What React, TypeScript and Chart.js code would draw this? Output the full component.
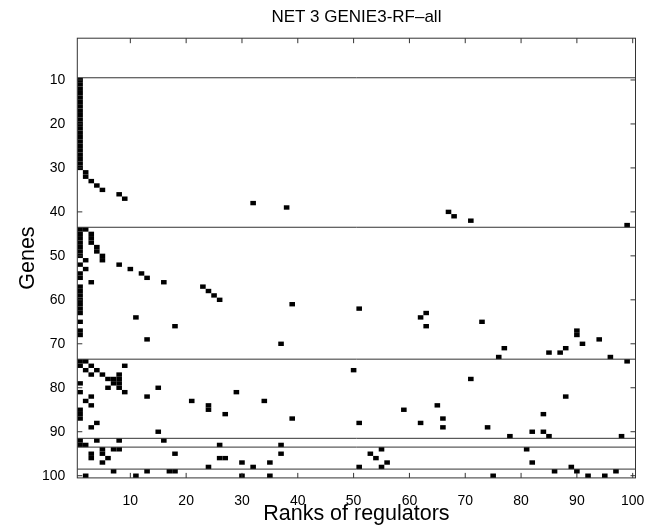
import { useEffect, useRef } from "react";
import { Chart, registerables } from "chart.js";

Chart.register(...registerables);

const FONT = '"Liberation Sans", Arial, Helvetica, sans-serif';

const TITLE = "NET 3 GENIE3-RF\u2013all";
const X_LABEL = "Ranks of regulators";
const Y_LABEL = "Genes";
const X_TICKS = [10, 20, 30, 40, 50, 60, 70, 80, 90, 100];
const Y_TICKS = [10, 20, 30, 40, 50, 60, 70, 80, 90, 100];
const RANK_MIN = 0.5;
const RANK_MAX = 100.5;
const GENE_MIN = 0.5;
const GENE_MAX = 100.5;

// horizontal module separators (between gene rows)
const MODULE_BOUNDARIES = [9.5, 43.5, 73.5, 91.5, 93.5, 98.5];

// genes whose regulator of rank 1 is marked
const RANK1_GENES = [
  10, 11, 12, 13, 14, 15, 16, 17, 18, 19, 20, 21, 22, 23, 24, 25, 26, 27, 28, 29, 30,
  44, 45, 46, 47, 48, 49, 50, 52, 54, 55, 57, 58, 59, 60, 61, 62, 63, 65, 67, 68,
  74, 75, 79, 81, 85, 86, 87, 92, 93,
];

// other marked cells: [rank, gene]
const MODULE_A: [number, number][] = [
  [2, 31], [2, 32], [3, 33], [4, 34], [5, 35], [8, 36], [9, 37], [32, 38], [38, 39],
  [67, 40], [68, 41], [71, 42], [99, 43],
];
const MODULE_B: [number, number][] = [
  [2, 44], [3, 45], [3, 46], [3, 47], [4, 48], [4, 49], [5, 50], [5, 51], [2, 51],
  [8, 52], [2, 53], [10, 53], [12, 54], [13, 55], [3, 56], [16, 56], [23, 57], [24, 58],
  [25, 59], [26, 60], [39, 61], [51, 62], [63, 63], [11, 64], [62, 64], [73, 65],
  [18, 66], [63, 66], [90, 67], [90, 68], [13, 69], [94, 69], [37, 70], [91, 70],
  [77, 71], [88, 71], [85, 72], [87, 72], [76, 73], [96, 73],
];
const MODULE_C: [number, number][] = [
  [2, 74], [99, 74], [3, 75], [9, 75], [2, 76], [4, 76], [50, 76], [3, 77], [5, 77],
  [8, 77], [6, 78], [7, 78], [8, 78], [71, 78], [7, 79], [8, 79], [6, 80], [8, 80],
  [15, 80], [9, 81], [29, 81], [3, 82], [13, 82], [88, 82], [2, 83], [21, 83], [34, 83],
  [3, 84], [24, 84], [65, 84], [24, 85], [59, 85], [27, 86], [84, 86], [39, 87],
  [66, 87], [4, 88], [51, 88], [62, 88], [3, 89], [66, 89], [74, 89], [15, 90],
  [82, 90], [84, 90], [78, 91], [85, 91], [98, 91],
];
const MODULE_D: [number, number][] = [
  [4, 92], [8, 92], [16, 92], [2, 93], [26, 93], [37, 93],
];
const MODULE_E: [number, number][] = [
  [5, 94], [7, 94], [8, 94], [55, 94], [81, 94], [3, 95], [5, 95], [18, 95], [37, 95],
  [53, 95], [3, 96], [6, 96], [26, 96], [27, 96], [54, 96], [5, 97], [30, 97], [35, 97],
  [56, 97], [82, 97], [24, 98], [32, 98], [51, 98], [55, 98], [89, 98],
];
const MODULE_F: [number, number][] = [
  [7, 99], [13, 99], [17, 99], [18, 99], [86, 99], [90, 99], [97, 99],
  [2, 100], [11, 100], [30, 100], [35, 100], [75, 100], [92, 100], [95, 100],
];

const matrixPlugin = {
  id: "matrixCells",
  beforeDatasetsDraw(chart: any) {
    const xs = chart.scales.x;
    const ys = chart.scales.y;
    const ds = chart.data.datasets.find((d: any) => d.label === "cells");
    if (!ds) return;
    const { ctx, chartArea } = chart;
    ctx.save();
    ctx.beginPath();
    ctx.rect(chartArea.left, chartArea.top, chartArea.right - chartArea.left, chartArea.bottom - chartArea.top);
    ctx.clip();
    ctx.filter = "blur(0.7px)";
    ctx.fillStyle = "#000";
    for (const p of ds.data) {
      const x0 = xs.getPixelForValue(p.x - 0.5);
      const x1 = xs.getPixelForValue(p.x + 0.5);
      const y0 = ys.getPixelForValue(p.y - 0.5);
      const y1 = ys.getPixelForValue(p.y + 0.5);
      ctx.fillRect(Math.min(x0, x1), Math.min(y0, y1), Math.abs(x1 - x0), Math.abs(y1 - y0));
    }
    ctx.restore();
  },
  afterDraw(chart: any) {
    const { ctx, chartArea } = chart;
    const xs = chart.scales.x;
    const ys = chart.scales.y;
    const L = 5;
    ctx.save();
    ctx.strokeStyle = "#333";
    ctx.lineWidth = 1;
    ctx.strokeRect(chartArea.left, chartArea.top, chartArea.right - chartArea.left, chartArea.bottom - chartArea.top);
    ctx.beginPath();
    for (const v of X_TICKS) {
      const px = xs.getPixelForValue(v);
      ctx.moveTo(px, chartArea.bottom);
      ctx.lineTo(px, chartArea.bottom - L);
      ctx.moveTo(px, chartArea.top);
      ctx.lineTo(px, chartArea.top + L);
    }
    for (const v of Y_TICKS) {
      const py = ys.getPixelForValue(v);
      ctx.moveTo(chartArea.left, py);
      ctx.lineTo(chartArea.left + L, py);
      ctx.moveTo(chartArea.right, py);
      ctx.lineTo(chartArea.right - L, py);
    }
    ctx.stroke();
    ctx.restore();
  },
};

export default function App() {
  const canvasRef = useRef<HTMLCanvasElement | null>(null);

  useEffect(() => {
    if (!canvasRef.current) return;
    const allPairs = [...MODULE_A, ...MODULE_B, ...MODULE_C, ...MODULE_D, ...MODULE_E, ...MODULE_F];
    const cells = [
      ...RANK1_GENES.map((g) => ({ x: 1, y: g })),
      ...allPairs.map(([r, g]) => ({ x: r, y: g })),
    ];
    const boundaryDatasets = MODULE_BOUNDARIES.map((b) => ({
      label: "boundary " + b,
      data: [
        { x: RANK_MIN, y: b },
        { x: RANK_MAX, y: b },
      ],
      showLine: true,
      borderColor: "#333",
      borderWidth: 1,
      pointRadius: 0,
    }));

    const chart = new Chart(canvasRef.current, {
      type: "scatter",
      data: {
        datasets: [
          { label: "cells", data: cells, pointRadius: 0, backgroundColor: "#000" },
          ...boundaryDatasets,
        ] as any,
      },
      options: {
        animation: false,
        responsive: false,
        events: [],
        layout: { padding: { left: 0, right: 18.5, top: 0, bottom: 0 } },
        plugins: {
          legend: { display: false },
          tooltip: { enabled: false },
          title: {
            display: true,
            fullSize: false,
            text: TITLE,
            color: "#000",
            font: { family: FONT, size: 17, weight: "normal" },
            padding: { top: 7, bottom: 10.8 },
          },
        },
        scales: {
          x: {
            type: "linear",
            position: "bottom",
            min: RANK_MIN,
            max: RANK_MAX,
            afterBuildTicks: (s: any) => {
              s.ticks = X_TICKS.map((v) => ({ value: v }));
            },
            afterFit: (s: any) => {
              s.height = 49.1;
            },
            grid: { display: false },
            border: { display: false },
            ticks: {
              color: "#000",
              font: { family: FONT, size: 14 },
              padding: 6.7,
              maxRotation: 0,
              autoSkip: false,
            },
            title: {
              display: true,
              text: X_LABEL,
              color: "#000",
              font: { family: FONT, size: 21.5 },
              padding: { top: 0, bottom: 0 },
            },
          },
          y: {
            type: "linear",
            reverse: true,
            min: GENE_MIN,
            max: GENE_MAX,
            afterBuildTicks: (s: any) => {
              s.ticks = Y_TICKS.map((v) => ({ value: v }));
            },
            afterFit: (s: any) => {
              s.width = 77.3;
            },
            grid: { display: false },
            border: { display: false },
            ticks: {
              color: "#000",
              font: { family: FONT, size: 14 },
              padding: 4,
              autoSkip: false,
            },
            title: {
              display: true,
              text: Y_LABEL,
              color: "#000",
              font: { family: FONT, size: 21.5 },
              padding: { top: 15, bottom: 0 },
            },
          },
        },
      } as any,
      plugins: [matrixPlugin],
    });
    return () => chart.destroy();
  }, []);

  return (
    <div style={{ position: "absolute", left: 0, top: 0, width: 654, height: 527, background: "#fff" }}>
      <canvas ref={canvasRef} width={654} height={527} />
    </div>
  );
}
